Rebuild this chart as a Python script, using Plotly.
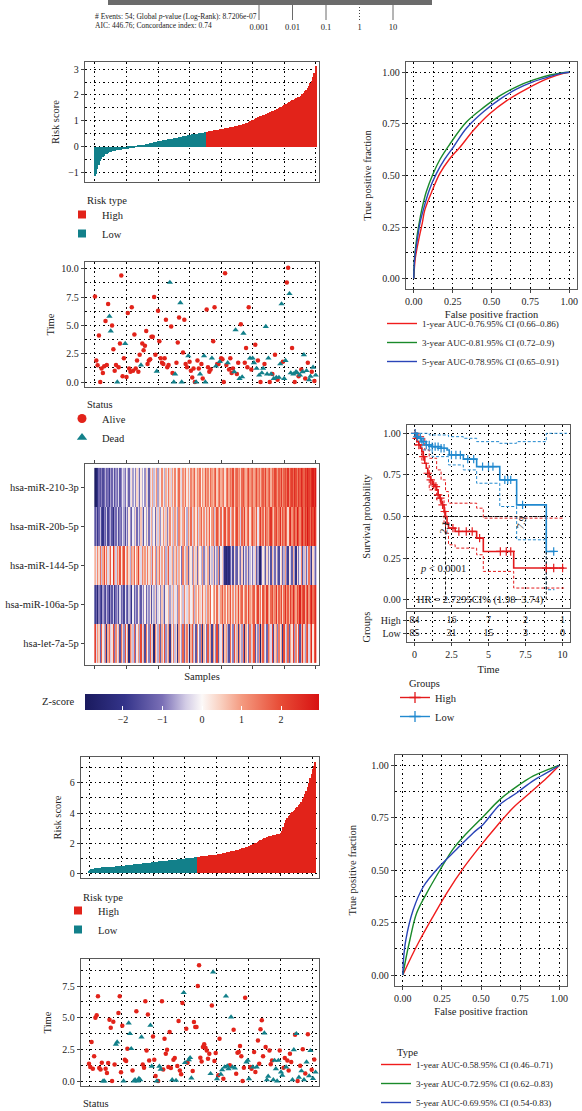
import plotly.graph_objects as go
import numpy as np

W, H = 582, 1111
FONT = "Liberation Serif"
TXT = "#222222"
RED = "#e2231a"
TEAL = "#12808a"
ROC_RED = "#f01c1c"
ROC_GREEN = "#1a8a2a"
ROC_BLUE = "#2a45b8"
KM_RED = "#e31a1c"
KM_BLUE = "#2189cf"

# ---------------- data ----------------
forest_ticks = [0.001, 0.01, 0.1, 1, 10]
forest_ticktext = ["0.001", "0.01", "0.1", "1", "10"]

risk_a_low = [-1.13,-1.03,-0.85,-0.70,-0.55,-0.45,-0.38,-0.33,-0.29,-0.26,
              -0.24,-0.21,-0.19,-0.17,-0.15,-0.14,-0.13,-0.12,-0.11,-0.10,
              -0.10,-0.09,-0.09,-0.08,-0.08,-0.07,-0.06,-0.05,-0.04,-0.03,
              -0.01,0.01,0.03,0.04,0.05,0.06,0.07,0.08,0.09,0.10,
              0.12,0.13,0.15,0.16,0.17,0.18,0.19,0.20,0.21,0.22,
              0.23,0.24,0.25,0.26,0.27,0.28,0.29,0.30,0.31,0.32,
              0.33,0.34,0.35,0.36,0.37,0.38,0.39,0.41,0.42,0.43,
              0.44,0.45,0.46,0.47,0.48,0.49,0.50,0.50,0.51,0.52,
              0.53,0.54,0.54,0.55,0.56]
risk_a_high = [0.58,0.59,0.60,0.61,0.62,0.63,0.64,0.65,0.66,0.67,
               0.68,0.68,0.69,0.70,0.71,0.72,0.73,0.74,0.75,0.76,
               0.77,0.78,0.79,0.80,0.81,0.83,0.84,0.86,0.88,0.90,
               0.92,0.94,0.96,0.98,1.00,1.02,1.05,1.08,1.11,1.14,
               1.17,1.19,1.20,1.22,1.23,1.25,1.27,1.30,1.33,1.36,
               1.38,1.40,1.42,1.44,1.46,1.49,1.52,1.55,1.58,1.61,
               1.64,1.67,1.70,1.73,1.76,1.79,1.82,1.85,1.87,1.89,
               1.91,1.93,1.97,2.02,2.08,2.14,2.20,2.28,2.36,2.45,
               2.55,2.68,2.85,3.10]

time_a = [7.56,1.9,1.47,4.1,0.0,1.2,0.8,1.4,5.4,1.5,
          6.9,5.8,4.5,5.0,2.9,1.0,1.5,0.0,1.3,3.4,
          9.4,0.5,2.1,3.4,0.45,6.1,1.2,0.9,6.6,1.0,
          4.2,1.2,1.9,0.9,2.4,1.5,3.4,2.8,3.2,4.5,
          1.6,1.9,2.0,4.0,4.0,7.5,2.4,0.95,6.3,3.6,
          2.1,1.7,1.6,2.1,5.5,1.3,1.5,8.8,4.9,0.8,
          0.0,0.7,1.7,3.5,5.7,7.0,0.0,2.6,5.5,1.6,
          1.3,2.3,1.8,1.0,0.4,1.2,0.0,0.0,1.9,1.2,
          0.7,1.6,0.3,2.3,0.0,6.4,1.3,0.9,1.1,2.1,
          3.6,6.6,1.4,1.6,1.6,1.8,2.1,2.0,0.0,9.6,
          1.5,1.7,1.1,2.1,0.8,1.2,0.9,4.6,0.7,1.7,
          0.3,5.1,0.45,4.3,1.7,3.0,1.3,6.6,2.1,1.1,
          2.1,1.7,3.3,1.2,1.9,0.6,0.0,0.8,1.2,1.6,
          4.9,0.7,2.1,0.0,0.7,0.7,0.3,2.4,0.4,0.2,
          0.4,1.6,6.9,1.8,0.3,1.9,8.8,10.1,7.8,0.8,
          3.0,0.7,0.0,0.9,0.8,0.5,0.6,1.1,0.9,2.4,
          0.3,1.0,1.7,0.2,0.5,0.9,1.3,0.1,0.6]
status_a = [0,0,0,0,0,0,0,0,0,0,
            0,1,1,0,0,0,0,1,0,0,
            0,0,0,1,0,0,0,0,0,0,
            0,0,0,0,0,1,0,0,0,0,
            0,0,0,0,0,0,0,1,0,0,
            0,0,0,0,0,0,0,1,0,0,
            1,1,0,0,0,1,1,0,0,0,
            0,1,0,0,0,0,0,1,0,0,
            1,0,0,1,1,0,0,0,0,1,
            0,0,1,0,0,1,0,0,0,0,
            0,1,0,0,0,0,1,1,0,0,
            1,0,1,1,0,0,0,0,1,0,
            1,1,0,1,0,1,0,1,1,0,
            1,1,1,0,1,0,1,0,1,0,
            1,1,1,0,1,1,0,0,1,1,
            0,1,0,1,1,0,1,0,1,1,
            0,1,0,1,1,0,1,0,1]

genes = ["hsa-miR-210-3p", "hsa-miR-20b-5p", "hsa-miR-144-5p", "hsa-miR-106a-5p", "hsa-let-7a-5p"]
z_mir210 = [-2.8,-2.6,-2.1,-1.2,-1.5,-0.9,-1.6,-1.1,-0.6,-1.3,-1.0,-1.8,-0.7,-1.2,-0.4,-1.5,-0.8,-1.1,-0.3,-1.4,
            -0.9,-0.2,-0.6,-1.0,0.1,-0.5,-1.2,-0.3,0.3,-0.7,-0.1,-0.9,0.4,-0.4,-1.1,0.2,-0.6,0.0,-0.8,0.5,
            -0.3,-1.3,0.6,-0.2,0.9,-0.5,0.3,1.1,-0.7,0.4,-0.1,1.2,0.2,-0.6,0.8,-0.2,1.4,0.5,-0.4,1.0,
            0.3,1.3,-0.1,0.7,1.6,0.4,-0.3,1.1,0.6,1.5,0.2,0.9,-0.2,1.3,0.7,1.0,1.7,0.4,1.2,0.8,
            1.5,0.1,1.1,0.6,1.8,0.9,1.3,0.4,1.6,1.0,0.7,1.4,1.9,0.5,1.2,1.7,0.8,1.1,1.5,0.3,
            1.3,1.8,0.9,1.5,1.1,2.0,0.6,1.4,1.7,1.0,1.3,0.5,1.6,1.9,1.2,0.8,1.5,2.1,1.0,1.4,
            1.7,0.9,1.3,2.0,1.1,1.6,0.7,1.4,1.8,1.2,2.2,1.0,1.5,1.9,0.8,1.6,1.3,2.1,1.7,1.0,
            1.8,1.4,2.3,1.1,1.7,2.0,1.5,2.4,1.2,1.9,2.2,1.6,2.5,2.0,1.4,2.3,1.8,2.6,2.1,1.7,
            2.4,2.0,2.7,2.2,1.9,2.5,2.8,2.3,2.9]
z_mir20b = [-1.5,-0.8,-1.9,-1.2,-0.5,-1.6,-2.0,-0.9,-1.3,-0.4,-1.7,-1.0,-0.6,-1.4,-2.1,-0.8,-1.1,-0.3,-1.5,-0.9,
            -1.2,-0.2,-0.7,-1.6,-0.4,-1.0,0.2,-0.8,-1.3,-0.1,-0.6,0.4,-1.1,-0.3,-0.9,0.6,-0.5,-1.4,0.1,-0.7,
            0.3,-1.0,-0.2,0.8,-0.6,0.1,-1.2,0.5,-0.4,0.9,-0.8,0.2,1.1,-0.3,0.6,-0.9,0.4,1.2,-0.1,0.7,
            -0.5,1.0,0.3,-0.7,1.3,0.5,-0.2,0.9,1.5,0.1,-0.6,1.1,0.4,1.6,-0.3,0.8,1.2,0.2,1.4,-0.4,
            0.9,1.7,0.3,1.1,-0.2,1.3,0.6,1.8,0.0,1.0,1.5,-0.5,0.7,1.9,1.2,0.4,1.6,-0.1,1.1,2.0,
            0.5,1.3,1.8,-0.3,0.9,1.6,0.2,1.4,2.1,0.8,1.2,-0.4,1.7,1.0,2.2,0.6,1.5,1.9,0.3,1.3,
            2.0,1.1,0.7,1.8,-0.2,1.4,2.3,1.0,1.6,0.5,2.1,1.3,0.9,1.8,2.4,1.2,0.6,1.7,2.2,1.0,
            1.5,2.5,0.8,1.9,1.3,2.2,1.6,0.4,2.0,2.6,1.1,1.7,2.3,1.4,2.8,1.9,1.2,2.1,2.7,1.6,
            2.4,1.8,2.9,2.2,1.5,2.6,2.0,2.8,2.3]
z_mir144 = [0.8,-0.2,1.2,0.4,1.6,-0.5,0.9,2.1,0.3,1.4,-0.3,0.7,1.8,0.1,2.4,1.0,-0.4,1.3,0.6,1.9,
            0.2,1.1,2.0,-0.1,0.8,1.5,0.4,-0.6,1.2,0.7,1.7,0.0,0.9,2.2,0.5,-0.3,1.3,0.6,1.0,-0.2,
            1.4,0.3,0.8,-0.5,1.6,0.2,1.1,-0.8,0.6,1.5,-0.2,0.9,0.1,1.3,-0.6,0.7,1.8,-0.3,0.4,1.0,
            -0.7,0.5,1.2,-0.4,0.8,0.0,-1.0,1.4,0.3,-0.5,0.9,-1.2,0.6,0.2,-0.8,1.1,-0.3,0.5,-1.1,0.7,
            0.1,-0.6,1.0,-0.9,0.4,-0.2,0.8,-1.3,0.3,-0.5,0.6,-1.0,0.2,-0.7,1.1,-1.4,-0.1,0.5,-0.8,-2.2,
            -2.5,-1.9,-2.3,-1.2,-0.4,-1.6,0.3,-0.9,-1.3,0.2,-0.6,-1.1,0.5,-1.5,-0.2,-0.8,0.4,-1.2,-0.5,0.1,
            -1.0,-0.3,0.6,-1.4,-0.7,-2.4,-2.7,-1.1,0.2,-0.6,-1.3,0.4,-0.9,-0.2,-1.5,0.7,-0.4,-1.1,0.3,-0.8,
            -1.6,-0.1,0.5,-1.2,-0.6,1.0,-0.9,-1.8,0.2,-0.4,-1.3,0.8,-0.7,-2.0,0.3,-1.0,-0.2,1.2,-1.5,-0.5,
            0.6,-1.1,-0.3,1.5,-0.8,-1.9,0.4,-0.6,-1.2]
z_mir106a = [-1.8,-1.2,-2.4,-0.9,-1.5,-2.0,-0.7,-1.3,-1.7,-0.5,-1.1,-2.2,-0.8,-1.4,-0.4,-1.9,-1.0,-0.6,-1.6,-0.3,
             -1.2,-0.8,-1.7,-0.2,-1.0,-1.5,-0.5,-0.9,-2.0,-0.1,-1.3,-0.6,-1.1,0.2,-0.7,-1.4,-0.3,-0.9,0.1,-1.2,
             -0.4,-0.8,0.3,-1.5,-0.2,-0.6,0.5,-1.0,-0.3,0.1,-0.9,0.6,-0.5,-1.3,0.2,-0.1,0.8,-0.7,0.4,-0.4,
             0.9,-0.2,0.3,-0.8,1.1,0.0,0.5,-0.5,1.3,0.2,-0.3,0.7,1.0,-0.1,0.4,1.4,-0.6,0.8,0.1,1.2,
             0.5,-0.2,1.5,0.3,0.9,-0.4,1.1,0.6,1.7,0.0,0.8,1.3,0.2,1.6,0.4,-0.3,1.0,1.8,0.6,1.2,
             0.1,1.5,0.8,1.9,0.3,1.1,-0.2,1.4,0.7,2.0,0.5,1.2,1.7,0.2,0.9,1.6,0.4,2.1,1.0,0.6,
             1.4,1.8,0.3,1.1,2.2,0.7,1.5,0.1,1.9,1.2,0.8,2.3,1.0,0.5,1.6,2.0,0.9,1.3,2.4,0.6,
             1.7,1.1,2.1,0.4,1.5,2.5,1.0,1.8,0.7,2.2,1.3,2.6,1.6,0.9,2.0,1.4,2.7,1.2,1.9,2.3,
             0.8,1.6,2.5,1.1,2.1,2.8,1.5,2.0,2.6]
z_let7a = [2.2,-0.3,1.1,0.5,-1.2,1.8,0.2,-0.6,1.4,-2.0,0.8,1.6,-0.4,0.3,2.0,-1.0,1.2,-0.2,0.7,-1.5,
           1.5,0.4,-0.8,1.9,-0.1,0.9,-2.3,1.3,0.6,-0.5,1.7,-1.1,0.2,1.0,-0.7,2.1,-0.3,0.8,-1.6,1.4,
           0.1,-0.9,1.8,-0.4,0.6,-2.4,1.2,0.3,-0.6,1.6,-1.3,0.9,-0.2,2.0,-0.8,0.5,1.1,-1.9,0.7,-0.1,
           1.3,-0.5,0.4,-2.1,1.0,0.2,-0.7,1.7,-1.2,0.6,1.4,-0.3,-2.5,0.8,1.9,-0.6,0.3,-1.4,1.2,0.0,
           -0.9,1.5,-2.2,0.7,0.1,-1.0,1.8,-0.4,0.9,-1.7,1.1,0.3,-0.8,2.1,-1.3,0.5,-0.2,1.4,-2.0,0.6,
           1.0,-0.6,-1.5,1.6,0.2,-0.9,2.0,-0.3,0.8,-1.8,1.2,0.4,-0.7,1.7,-2.3,0.9,0.1,-1.1,1.5,-0.4,
           0.6,1.9,-1.4,0.3,-0.8,1.3,-2.6,0.7,1.8,-0.5,0.2,-1.2,1.6,0.8,-0.3,2.2,-1.6,0.5,1.1,-0.9,
           1.4,-0.2,0.9,-1.9,2.0,0.4,-0.6,1.7,-1.3,1.0,0.3,2.3,-0.8,1.2,-0.1,1.9,-1.5,0.8,2.4,0.5,
           -0.7,1.6,2.1,-0.3,1.3,2.6,0.2,1.8,2.5]
z_range = [-2.96, 2.96]
z_ticks = [-2, -1, 0, 1, 2]

risk_b_low = [0.15,0.20,0.24,0.27,0.30,0.32,0.33,0.34,0.35,0.36,
              0.37,0.38,0.39,0.39,0.40,0.41,0.41,0.42,0.42,0.43,
              0.43,0.44,0.45,0.46,0.46,0.47,0.48,0.49,0.50,0.51,
              0.52,0.53,0.54,0.55,0.56,0.57,0.58,0.59,0.60,0.61,
              0.62,0.63,0.64,0.65,0.66,0.67,0.68,0.69,0.70,0.71,
              0.72,0.73,0.74,0.75,0.76,0.77,0.77,0.78,0.79,0.80,
              0.81,0.82,0.83,0.84,0.85,0.86,0.87,0.88,0.89,0.90,
              0.91,0.92,0.93,0.94,0.95,0.96,0.97,0.98,0.99,1.00,
              1.01,1.02,1.03,1.04,1.05]
risk_b_high = [1.08,1.09,1.10,1.11,1.12,1.13,1.14,1.15,1.16,1.17,
               1.18,1.19,1.20,1.21,1.22,1.23,1.25,1.27,1.29,1.30,
               1.32,1.34,1.36,1.38,1.40,1.42,1.44,1.46,1.48,1.50,
               1.52,1.54,1.56,1.58,1.61,1.64,1.67,1.70,1.73,1.76,
               1.79,1.83,1.87,1.91,1.95,1.99,2.03,2.08,2.13,2.18,
               2.23,2.28,2.33,2.36,2.39,2.42,2.45,2.47,2.49,2.51,
               2.53,2.55,2.57,2.59,2.62,2.65,2.80,3.10,3.35,3.55,
               3.70,3.80,3.90,3.98,4.05,4.12,4.20,4.30,4.40,4.50,
               4.62,4.75,4.90,5.05,5.25,5.45,5.70,6.00,6.30,6.60,
               6.90,7.10,7.40]

time_b = [1.37,1.1,3.08,0.97,1.95,5.0,5.2,6.7,1.03,0.92,
          1.45,0,0,0.97,0.63,1.42,4.84,4.2,0,4.68,
          1.3,2.9,3.08,5.37,6.7,0.7,4.37,0,1.68,1.58,
          2.55,4.58,3.74,2.55,0.84,0,0.1,5.5,0,0.2,
          0.1,3.47,1.3,1.05,6.3,2.42,5.26,1.63,4.4,1.16,
          3.52,1.68,0.4,0,0,1.16,0.92,6.3,0.92,3.34,
          2.16,2.47,1.1,3.87,1.03,0.1,1.68,1.82,0.05,1.18,
          4.74,0.84,0.53,6.16,6.97,1.45,4.13,1.45,1.68,1.84,
          0.24,0.79,4.66,4.26,4.26,7.5,9.13,1.84,1.55,2.68,
          2.9,2.63,2.42,1.76,2.16,0.58,5.97,8.6,1.58,2.21,
          0.18,0.45,3.34,0.53,0.89,0.18,1.1,6.7,1.18,0.97,
          1.24,5.05,1.1,4.05,1.03,0.58,2.24,2.29,2.76,1.95,
          0,1.05,6.58,1.5,1.63,0.18,1.1,0.97,1.1,2.29,
          0.71,1.1,3.2,1.37,4.08,4.79,1.95,3.79,2.68,0.1,
          0.37,2.42,1.32,1.63,0.1,1.63,0.97,0,1.63,2.42,
          0.71,0.45,1.05,1.82,1.1,1.63,0.84,2.16,1.5,0.1,
          2.47,3.66,3.74,0,0.3,1.2,0.8,2.5,0.1,0.6,
          1.5,3.7,0.4,2.4,0.9,0.2,1.7,0.7]
status_b = [0,0,0,0,0,0,0,0,0,0,
            0,1,1,0,0,0,0,0,0,0,
            0,1,1,0,0,0,0,1,0,0,
            0,1,1,1,0,1,1,0,1,1,
            1,1,0,0,0,0,0,0,1,1,
            0,0,0,1,0,1,1,0,0,0,
            0,0,0,0,0,1,0,0,1,0,
            0,0,0,0,1,1,0,0,1,1,
            1,0,0,0,0,0,0,0,0,0,
            0,0,0,0,0,1,0,1,0,0,
            1,0,0,1,1,0,1,1,1,1,
            0,1,1,0,1,0,0,0,0,0,
            0,0,0,1,1,1,0,0,1,0,
            0,1,0,0,0,0,0,1,0,1,
            1,0,0,0,1,1,1,1,1,0,
            1,1,0,0,1,0,0,0,0,1,
            1,0,1,0,1,0,1,0,1,0,
            1,0,1,1,0,1,0,1]

# ROC curves (false positive fraction, true positive fraction)
roc_a_fpr_1y = [0,0.01,0.035,0.055,0.07,0.115,0.168,0.23,0.297,0.383,0.49,0.598,0.727,0.856,0.963,1]
roc_a_tpr_1y = [0,0.1,0.2,0.27,0.33,0.42,0.51,0.58,0.637,0.718,0.80,0.863,0.92,0.968,0.995,1]
roc_a_fpr_3y = [0,0.005,0.02,0.035,0.05,0.08,0.125,0.17,0.23,0.34,0.45,0.555,0.66,0.77,0.877,0.95,1]
roc_a_tpr_3y = [0,0.1,0.2,0.27,0.33,0.42,0.51,0.58,0.65,0.76,0.83,0.887,0.93,0.963,0.987,0.997,1]
roc_a_fpr_5y = [0,0.006,0.025,0.04,0.06,0.1,0.146,0.2,0.254,0.34,0.45,0.555,0.66,0.77,0.877,0.95,1]
roc_a_tpr_5y = [0,0.1,0.2,0.27,0.33,0.43,0.51,0.58,0.637,0.73,0.81,0.87,0.918,0.955,0.98,0.995,1]
roc_a_names = ["1-year AUC-0.76.95% CI (0.66\u20130.86)", "3-year AUC-0.81.95% CI (0.72\u20130.9)",
               "5-year AUC-0.78.95% CI (0.65\u20130.91)"]

roc_b_fpr_1y = [0,0.05,0.109,0.194,0.28,0.387,0.494,0.60,0.707,0.814,0.92,1]
roc_b_tpr_1y = [0,0.08,0.167,0.28,0.39,0.51,0.614,0.71,0.80,0.87,0.94,1]
roc_b_fpr_3y = [0,0.02,0.045,0.088,0.152,0.237,0.32,0.41,0.515,0.62,0.73,0.835,0.94,1]
roc_b_tpr_3y = [0,0.08,0.167,0.295,0.39,0.50,0.60,0.678,0.757,0.837,0.90,0.95,0.984,1]
roc_b_fpr_5y = [0,0.005,0.019,0.066,0.13,0.237,0.344,0.45,0.515,0.62,0.73,0.835,0.94,1]
roc_b_tpr_5y = [0,0.08,0.167,0.31,0.42,0.52,0.60,0.678,0.72,0.813,0.87,0.928,0.973,1]
roc_b_names = ["1-year AUC-0.58.95% CI (0.46\u20130.71)", "3-year AUC-0.72.95% CI (0.62\u20130.83)",
               "5-year AUC-0.69.95% CI (0.54-0.83)"]

# Kaplan-Meier
km_high_t = [0,0.1,0.2,0.3,0.4,0.5,0.6,0.7,0.8,0.9,1.0,1.1,1.2,1.3,1.4,1.5,1.6,1.7,1.8,1.9,2.0,2.1,2.2,2.3,2.75,4.2,4.65,6.7,10.1]
km_high_s = [1,0.97,0.95,0.93,0.91,0.89,0.86,0.82,0.79,0.76,0.74,0.72,0.70,0.69,0.68,0.66,0.63,0.61,0.58,0.57,0.53,0.5,0.46,0.43,0.41,0.37,0.29,0.19,0.19]
km_high_up_t = [0,0.3,0.7,1.0,1.5,1.8,2.1,2.3,4.2,4.65,10.1]
km_high_up_s = [1,0.98,0.9,0.85,0.78,0.72,0.65,0.58,0.55,0.49,0.49]
km_high_lo_t = [0,0.5,1.0,1.5,2.0,2.1,2.3,2.75,4.2,4.65,6.7,10.1]
km_high_lo_s = [0.93,0.82,0.66,0.6,0.46,0.40,0.33,0.31,0.27,0.17,0.07,0.07]
km_low_t = [0,0.15,0.3,0.5,0.8,1.2,1.8,2.2,2.35,3.3,4.2,5.76,6.9,8.9,9.45]
km_low_s = [1,0.98,0.97,0.95,0.93,0.92,0.91,0.90,0.87,0.845,0.80,0.72,0.57,0.29,0.29]
km_low_up_t = [0,1.0,2.3,3.3,4.2,5.76,6.9,8.9,10.3]
km_low_up_s = [1,0.99,0.98,0.97,0.95,0.94,0.95,1.0,1.0]
km_low_lo_t = [0,0.5,1.2,2.3,3.3,4.2,5.76,6.9,8.9,9.45]
km_low_lo_s = [0.97,0.9,0.86,0.81,0.78,0.70,0.56,0.36,0.06,0.06]
km_high_cens = [0.05,0.15,0.3,0.6,0.9,1.1,1.3,1.45,1.6,1.75,1.9,2.05,2.6,3.0,3.5,3.9,4.4,5.8,6.2,6.5,8.9,9.4,10.0]
km_low_cens = [0.05,0.2,0.4,0.6,0.8,1.0,1.2,1.4,1.6,1.8,2.0,2.5,2.8,3.1,3.6,4.0,4.6,5.0,5.3,6.1,6.3,6.5,7.3,9.4]
median_high = 2.1
median_low = 8.9

table_times = [0, 2.5, 5, 7.5, 10]
at_risk_high = [84, 16, 7, 2, 1]
at_risk_low = [85, 31, 15, 3, 0]

for arr in (z_mir210, z_mir20b, z_mir144, z_mir106a, z_let7a):
    assert len(arr) == len(risk_a_low) + len(risk_a_high), len(arr)
assert len(time_a) == len(status_a) == 169, (len(time_a), len(status_a))
assert len(time_b) == len(status_b) == len(risk_b_low) + len(risk_b_high), (len(time_b), len(status_b))

# ---------------- helpers ----------------
def xd(a, b):
    return [a / W, b / W]

def yd(t, b):
    return [1 - b / H, 1 - t / H]

TICKF = dict(family=FONT, size=10, color=TXT)
TITLEF = dict(family=FONT, size=10.5, color=TXT, weight="normal")
DOT = "1.5px,3px"
FRAME = dict(showline=True, mirror=True, linecolor="#5a5a5a", linewidth=1.3, zeroline=False,
             tickfont=TICKF, tickcolor="#444", ticklen=3)

def grid(dtick, tick0=0, minor=None):
    d = dict(showgrid=True, gridcolor="#000000", gridwidth=1, griddash=DOT, dtick=dtick, tick0=tick0)
    if minor is not None:
        d["minor"] = dict(showgrid=True, gridcolor="#000000", gridwidth=0.8, griddash=DOT,
                          dtick=minor, tick0=tick0, ticks="")
    return d

fig = go.Figure()

# ---- forest strip ----
fx, fy = [], []
for t in forest_ticks:
    if t != 1:
        fx += [t, t, None]
        fy += [0, 1, None]
fig.add_trace(go.Scatter(x=fx, y=fy, mode="lines", line=dict(color="#6a6a6a", width=1),
                         xaxis="x", yaxis="y", showlegend=False, hoverinfo="skip"))
fig.add_trace(go.Scatter(x=[1, 1], y=[0, 1], mode="lines", line=dict(color="#444", width=1, dash="1px,2px"),
                         xaxis="x", yaxis="y", showlegend=False, hoverinfo="skip"))

# ---- risk score A ----
na_low = len(risk_a_low)
xa_low = list(range(1, na_low + 1))
xa_high = list(range(na_low + 1, na_low + len(risk_a_high) + 1))
fig.add_trace(go.Bar(x=xa_low, y=risk_a_low, width=1, marker=dict(color=TEAL, line=dict(width=0)),
                     xaxis="x2", yaxis="y2", showlegend=False))
fig.add_trace(go.Bar(x=xa_high, y=risk_a_high, width=1, marker=dict(color=RED, line=dict(width=0)),
                     xaxis="x2", yaxis="y2", showlegend=False))
for nm, col in (("High", RED), ("Low", TEAL)):
    fig.add_trace(go.Scatter(x=[None], y=[None], mode="markers", name=nm,
                             marker=dict(symbol="square", size=8, color=col),
                             xaxis="x2", yaxis="y2", legend="legend"))

# ---- time scatter A ----
ia = np.arange(1, len(time_a) + 1)
ta = np.array(time_a)
sa = np.array(status_a)
fig.add_trace(go.Scatter(x=ia[sa == 0], y=ta[sa == 0], mode="markers", name="Alive",
                         marker=dict(symbol="circle", size=4.5, color=RED),
                         xaxis="x3", yaxis="y3", showlegend=False))
fig.add_trace(go.Scatter(x=ia[sa == 1], y=ta[sa == 1], mode="markers", name="Dead",
                         marker=dict(symbol="triangle-up", size=5.5, color=TEAL),
                         xaxis="x3", yaxis="y3", showlegend=False))
fig.add_trace(go.Scatter(x=[None], y=[None], mode="markers", name="Alive",
                         marker=dict(symbol="circle", size=9, color=RED), xaxis="x3", yaxis="y3", legend="legend2"))
fig.add_trace(go.Scatter(x=[None], y=[None], mode="markers", name="Dead",
                         marker=dict(symbol="triangle-up", size=9, color=TEAL), xaxis="x3", yaxis="y3", legend="legend2"))

# ---- heatmap ----
cscale = [[0.0, "#1a1a5e"], [0.17, "#34348a"], [0.33, "#7a6fb6"], [0.43, "#d2cbe5"], [0.5, "#fcf9f8"],
          [0.58, "#f9d0c0"], [0.67, "#f49a80"], [0.83, "#e84e38"], [1.0, "#d81212"]]
fig.add_trace(go.Heatmap(
    z=[z_mir210, z_mir20b, z_mir144, z_mir106a, z_let7a],
    x=list(range(1, len(z_mir210) + 1)), y=genes,
    colorscale=cscale, zmin=z_range[0], zmax=z_range[1],
    xaxis="x4", yaxis="y4", hoverinfo="skip",
    colorbar=dict(orientation="h", x=85 / W, xanchor="left", y=1 - 694 / H, yanchor="top",
                  len=234, lenmode="pixels", thickness=16, thicknessmode="pixels",
                  xpad=0, ypad=0, outlinewidth=0, ticks="inside", ticklen=4, tickcolor="white",
                  tickvals=z_ticks, tickfont=TICKF)))

# ---- risk score B ----
nb_low = len(risk_b_low)
fig.add_trace(go.Bar(x=list(range(1, nb_low + 1)), y=risk_b_low, width=1,
                     marker=dict(color=TEAL, line=dict(width=0)), xaxis="x5", yaxis="y5", showlegend=False))
fig.add_trace(go.Bar(x=list(range(nb_low + 1, nb_low + len(risk_b_high) + 1)), y=risk_b_high, width=1,
                     marker=dict(color=RED, line=dict(width=0)), xaxis="x5", yaxis="y5", showlegend=False))
for nm, col in (("High", RED), ("Low", TEAL)):
    fig.add_trace(go.Scatter(x=[None], y=[None], mode="markers", name=nm,
                             marker=dict(symbol="square", size=8, color=col),
                             xaxis="x5", yaxis="y5", legend="legend5"))

# ---- time scatter B ----
ib = np.arange(1, len(time_b) + 1)
tb = np.array(time_b)
sb = np.array(status_b)
fig.add_trace(go.Scatter(x=ib[sb == 0], y=tb[sb == 0], mode="markers",
                         marker=dict(symbol="circle", size=4.5, color=RED),
                         xaxis="x6", yaxis="y6", showlegend=False))
fig.add_trace(go.Scatter(x=ib[sb == 1], y=tb[sb == 1], mode="markers",
                         marker=dict(symbol="triangle-up", size=5.5, color=TEAL),
                         xaxis="x6", yaxis="y6", showlegend=False))

# ---- ROC A ----
for fpr, tpr, nm, col in ((roc_a_fpr_1y, roc_a_tpr_1y, roc_a_names[0], ROC_RED),
                          (roc_a_fpr_3y, roc_a_tpr_3y, roc_a_names[1], ROC_GREEN),
                          (roc_a_fpr_5y, roc_a_tpr_5y, roc_a_names[2], ROC_BLUE)):
    fig.add_trace(go.Scatter(x=fpr, y=tpr, mode="lines", name=nm, line=dict(color=col, width=1.4, shape="spline"),
                             xaxis="x7", yaxis="y7", legend="legend4"))

# ---- ROC B ----
for fpr, tpr, nm, col in ((roc_b_fpr_1y, roc_b_tpr_1y, roc_b_names[0], ROC_RED),
                          (roc_b_fpr_3y, roc_b_tpr_3y, roc_b_names[1], ROC_GREEN),
                          (roc_b_fpr_5y, roc_b_tpr_5y, roc_b_names[2], ROC_BLUE)):
    fig.add_trace(go.Scatter(x=fpr, y=tpr, mode="lines", name=nm, line=dict(color=col, width=1.4, shape="spline"),
                             xaxis="x10", yaxis="y10", legend="legend6"))

# ---- KM ----
def step_at(ts, ss, t):
    i = int(np.searchsorted(ts, t, side="right")) - 1
    return ss[i]

for ts, ss, col in ((km_high_up_t, km_high_up_s, KM_RED), (km_high_lo_t, km_high_lo_s, KM_RED),
                    (km_low_up_t, km_low_up_s, KM_BLUE), (km_low_lo_t, km_low_lo_s, KM_BLUE)):
    fig.add_trace(go.Scatter(x=ts, y=ss, mode="lines", line=dict(color=col, width=1, dash="3px,2px", shape="hv"),
                             xaxis="x8", yaxis="y8", showlegend=False, hoverinfo="skip"))
fig.add_trace(go.Scatter(x=[0, median_low], y=[0.5, 0.5], mode="lines",
                         line=dict(color="#111", width=1, dash="3px,2px"), xaxis="x8", yaxis="y8", showlegend=False))
for m in (median_high, median_low):
    fig.add_trace(go.Scatter(x=[m, m], y=[0.5, 0], mode="lines",
                             line=dict(color="#111", width=1, dash="3px,2px"), xaxis="x8", yaxis="y8", showlegend=False))
for ts, ss, cens, col, nm in ((km_high_t, km_high_s, km_high_cens, KM_RED, "High"),
                              (km_low_t, km_low_s, km_low_cens, KM_BLUE, "Low")):
    fig.add_trace(go.Scatter(x=ts, y=ss, mode="lines", line=dict(color=col, width=1.6, shape="hv"),
                             xaxis="x8", yaxis="y8", showlegend=False))
    fig.add_trace(go.Scatter(x=cens, y=[step_at(ts, ss, c) for c in cens], mode="markers",
                             marker=dict(symbol="cross-thin", size=6, line=dict(color=col, width=1.2)),
                             xaxis="x8", yaxis="y8", showlegend=False))
    fig.add_trace(go.Scatter(x=[None], y=[None], mode="lines+markers", name=nm,
                             line=dict(color=col, width=1.4),
                             marker=dict(symbol="cross-thin", size=8, line=dict(color=col, width=1.3)),
                             xaxis="x8", yaxis="y8", legend="legend3"))

# ---- risk table ----
fig.add_trace(go.Scatter(x=table_times + table_times, y=["High"] * 5 + ["Low"] * 5, mode="text",
                         text=[str(v) for v in at_risk_high + at_risk_low],
                         textfont=dict(family=FONT, size=10, color=TXT),
                         xaxis="x9", yaxis="y9", showlegend=False, hoverinfo="skip"))

# ---------------- layout ----------------
lay = dict(width=W, height=H, margin=dict(l=0, r=0, t=0, b=0, pad=0, autoexpand=False),
           paper_bgcolor="white", plot_bgcolor="white",
           bargap=0, font=dict(family=FONT, color=TXT), hovermode=False)

lay["xaxis"] = dict(domain=[252.3 / W, 413.1 / W], type="log", range=[-3.2, 1.6], anchor="y",
                    tickvals=forest_ticks, ticktext=forest_ticktext, ticks="", showgrid=False,
                    showline=False, zeroline=False, tickfont=dict(family=FONT, size=8.5, color=TXT))
lay["yaxis"] = dict(domain=yd(5, 20), range=[0, 1], visible=False, anchor="x")

xa_range = [-6.6, 171.5]
xb_range = [-5.25, 180.7]
lay["xaxis2"] = dict(FRAME, domain=xd(85, 319), range=xa_range, anchor="y2", showticklabels=False, ticks="",
                     **grid(24, 1))
lay["yaxis2"] = dict(FRAME, domain=yd(62, 182), range=[-1.35, 3.27], anchor="x2", ticks="outside",
                     title=dict(text="Risk score", font=TITLEF, standoff=6), **grid(1, 0, 0.5))
lay["xaxis3"] = dict(FRAME, domain=xd(85, 319), range=xa_range, anchor="y3", showticklabels=False, ticks="",
                     **grid(24, 1))
lay["yaxis3"] = dict(FRAME, domain=yd(262, 387), range=[-0.44, 10.6], anchor="x3", ticks="outside",
                     tickvals=[0, 2.5, 5, 7.5, 10], ticktext=["0.0", "2.5", "5.0", "7.5", "10.0"],
                     title=dict(text="Time", font=TITLEF, standoff=4), **grid(2.5, 0, 1.25))
lay["xaxis4"] = dict(FRAME, domain=xd(85, 319), range=xa_range, anchor="y4", showticklabels=False,
                     ticks="outside", dtick=24, tick0=1, mirror="ticks", showgrid=False,
                     title=dict(text="Samples", font=TITLEF, standoff=4))
lay["yaxis4"] = dict(FRAME, domain=yd(464, 665), range=[4.55, -0.6], anchor="x4", ticks="outside",
                     showgrid=False, type="category", tickfont=dict(family=FONT, size=10.5, color=TXT))
lay["xaxis5"] = dict(FRAME, domain=xd(81, 319), range=xb_range, anchor="y5", showticklabels=False, ticks="",
                     **grid(25, 1))
lay["yaxis5"] = dict(FRAME, domain=yd(757, 878), range=[-0.33, 7.73], anchor="x5", ticks="outside",
                     title=dict(text="Risk score", font=TITLEF, standoff=6), **grid(2, 0, 1))
lay["xaxis6"] = dict(FRAME, domain=xd(81, 319), range=xb_range, anchor="y6", showticklabels=False, ticks="",
                     **grid(25, 1))
lay["yaxis6"] = dict(FRAME, domain=yd(959, 1086), range=[-0.39, 9.63], anchor="x6", ticks="outside",
                     tickvals=[0, 2.5, 5, 7.5], ticktext=["0.0", "2.5", "5.0", "7.5"],
                     title=dict(text="Time", font=TITLEF, standoff=8), **grid(2.5, 0, 1.25))
lay["xaxis7"] = dict(FRAME, domain=xd(406, 577), range=[-0.05, 1.05], anchor="y7", ticks="outside",
                     tickformat=".2f", title=dict(text="False positive fraction", font=TITLEF, standoff=4),
                     **grid(0.25, 0, 0.125))
lay["yaxis7"] = dict(FRAME, domain=yd(62, 289), range=[-0.05, 1.05], anchor="x7", ticks="outside",
                     tickformat=".2f", title=dict(text="True positive fraction", font=TITLEF, standoff=8),
                     **grid(0.25, 0, 0.125))
lay["xaxis8"] = dict(FRAME, domain=xd(407, 570), range=[-0.5, 10.5], anchor="y8", showticklabels=False,
                     ticks="", **grid(2.5, 0, 1.25))
lay["yaxis8"] = dict(FRAME, domain=yd(425, 608), range=[-0.05, 1.05], anchor="x8", ticks="outside",
                     tickformat=".2f", title=dict(text="Survival probability", font=TITLEF, standoff=10),
                     **grid(0.25, 0, 0.125))
lay["xaxis9"] = dict(FRAME, domain=xd(407, 570), range=[-0.5, 10.5], anchor="y9", ticks="outside",
                     tickvals=table_times, ticktext=["0", "2.5", "5", "7.5", "10"],
                     title=dict(text="Time", font=TITLEF, standoff=6),
                     showgrid=True, gridcolor="#000", gridwidth=0.8, griddash=DOT,
                     minor=dict(showgrid=True, gridcolor="#000", gridwidth=0.8, griddash=DOT,
                                tickvals=[1.25, 3.75, 6.25, 8.75], ticks=""))
lay["yaxis9"] = dict(FRAME, domain=yd(612, 642), range=[-0.69, 1.62], anchor="x9", ticks="outside",
                     type="category", categoryorder="array", categoryarray=["Low", "High"],
                     showgrid=True, gridcolor="#000", gridwidth=0.8, griddash=DOT,
                     title=dict(text="Groups", font=TITLEF, standoff=8))
lay["xaxis10"] = dict(FRAME, domain=xd(395, 567), range=[-0.05, 1.05], anchor="y10", ticks="outside",
                      tickformat=".2f", title=dict(text="False positive fraction", font=TITLEF, standoff=4),
                      **grid(0.25, 0, 0.125))
lay["yaxis10"] = dict(FRAME, domain=yd(755, 985.5), range=[-0.05, 1.05], anchor="x10", ticks="outside",
                      tickformat=".2f", title=dict(text="True positive fraction", font=TITLEF, standoff=12),
                      **grid(0.25, 0, 0.125))

def leg(xp, ytop, size=10.5):
    return dict(x=xp / W, y=1 - ytop / H, xanchor="left", yanchor="top", bgcolor="rgba(0,0,0,0)",
                font=dict(family=FONT, size=size, color=TXT), itemwidth=30, tracegroupgap=0,
                itemclick=False, itemdoubleclick=False)

lay["legend"] = leg(62, 200)
lay["legend2"] = leg(62, 404)
lay["legend3"] = leg(395, 683)
lay["legend4"] = leg(382, 309, size=9)
lay["legend5"] = leg(58, 896)
lay["legend6"] = leg(376, 1050, size=9)

fig.update_layout(**lay)

fig.add_shape(type="rect", xref="paper", yref="paper", x0=108 / W, x1=432 / W, y0=1 - 5 / H, y1=1,
              fillcolor="#6b6b6b", line=dict(width=0))

ann = []
def note(text, xp, ypc, size=10.5, anchor="left", **kw):
    ann.append(dict(text=text, x=xp / W, y=1 - ypc / H, xref="paper", yref="paper", xanchor=anchor,
                    yanchor="middle", showarrow=False, font=dict(family=FONT, size=size, color=TXT), **kw))

note("# Events: 54; Global <i>p</i>-value (Log-Rank): 8.7206e-07", 93, 16, size=7.5)
note("AIC: 446.76; Concordance index: 0.74", 93, 25, size=7.5)
note("Risk type", 85, 200)
note("Status", 85, 404)
note("Z-score", 76, 702, anchor="right")
note("Groups", 407, 683)
note("Risk type", 81, 897)
note("Type", 395, 1052)
note("Status", 81, 1103)

for d in [dict(text="<i>p</i> < 0.0001", x=0.25, y=0.19, xanchor="left"),
          dict(text="HR = 2.7295CI% (1.98\u22123.74)", x=0.05, y=0.0, xanchor="left"),
          dict(text="2.1", x=2.0, y=0.43, xanchor="center", textangle=-75),
          dict(text="7.9", x=7.2, y=0.46, xanchor="center", textangle=-75)]:
    d.update(xref="x8", yref="y8", yanchor="middle", showarrow=False,
             font=dict(family=FONT, size=10.5, color=TXT))
    ann.append(d)

fig.update_layout(annotations=ann)
fig.write_html("out.html", config={"displayModeBar": False},
               post_script="document.body.style.margin='0';document.body.style.overflow='hidden';")
